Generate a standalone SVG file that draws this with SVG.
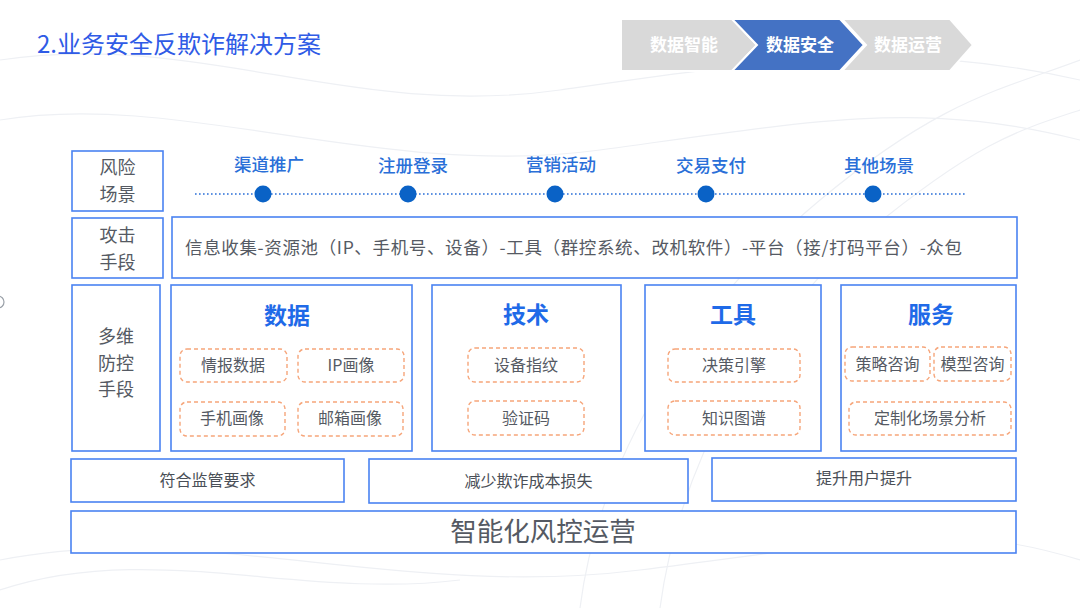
<svg xmlns="http://www.w3.org/2000/svg" width="1080" height="608" viewBox="0 0 1080 608">
<style>
text{font-family:"Noto Sans CJK SC","Noto Sans",sans-serif;}
.box{fill:#fff;stroke:#4a83f2;stroke-width:1.6;}
.lbl{fill:#555a63;font-size:18px;text-anchor:middle;}
.scn{fill:#2a6fd8;font-size:17.5px;text-anchor:middle;font-weight:500;}
.hd{fill:#1f6ae8;font-size:23px;font-weight:700;text-anchor:middle;}
.dash{fill:none;stroke:#f6a57a;stroke-width:1.4;stroke-dasharray:4 3;}
.it{fill:#555a63;font-size:16px;text-anchor:middle;}
.bt{fill:#4a4f57;font-size:16px;text-anchor:middle;}
.chv{font-size:17px;font-weight:700;fill:#fff;text-anchor:middle;}
.bg{fill:none;stroke:#eef0f4;stroke-width:1.2;}
</style>
<rect width="1080" height="608" fill="#fff"/>
<g id="background">
<path class="bg" d="M0,60 C200,30 350,120 560,90 S900,40 1080,80"/>
<path class="bg" d="M0,120 C180,90 380,180 600,150 S920,100 1080,140"/>
<path class="bg" d="M0,560 C200,520 400,600 640,570 S950,520 1080,560"/>
<path class="bg" d="M580,608 C600,450 700,300 820,200 S1000,90 1080,60"/>
<path class="bg" d="M660,608 C680,460 760,320 870,230 S1020,130 1080,110"/>
<path class="bg" d="M0,590 C150,540 300,600 460,580"/>
<circle cx="-2" cy="302" r="6" fill="none" stroke="#9aa0a8" stroke-width="1.2"/>
</g>
<g id="title">
<text x="37" y="53" font-size="24" fill="#2f5be6">2.业务安全反欺诈解决方案</text>
</g>
<g id="chevrons">
<polygon points="621,19 732,19 757,45 732,71 621,71" fill="#d9d9d9" stroke="#fff" stroke-width="2"/>
<polygon points="842,19 950,19 973,45 950,71 842,71 866,45" fill="#d9d9d9" stroke="#fff" stroke-width="2"/>
<polygon points="732,19 840,19 864,45 840,71 732,71 757,45" fill="#4472c4" stroke="#fff" stroke-width="2"/>
<text class="chv" x="684" y="51">数据智能</text>
<text class="chv" x="800" y="51">数据安全</text>
<text class="chv" x="908" y="51">数据运营</text>
</g>
<g id="row-risk">
<rect class="box" x="72" y="151" width="91" height="60"/>
<text class="lbl" x="117.5" y="174">风险</text>
<text class="lbl" x="117.5" y="200.5">场景</text>
</g>
<g id="connectors">
<line x1="195" y1="194" x2="967" y2="194" stroke="#2a6fd8" stroke-width="1.6" stroke-dasharray="1.6 2.4"/>
</g>
<g id="scenes">
<circle cx="263" cy="194" r="8.5" fill="#0a62c6"/>
<circle cx="408" cy="194" r="8.5" fill="#0a62c6"/>
<circle cx="555" cy="194" r="8.5" fill="#0a62c6"/>
<circle cx="706" cy="194" r="8.5" fill="#0a62c6"/>
<circle cx="873" cy="194" r="8.5" fill="#0a62c6"/>
<text class="scn" x="269" y="171">渠道推广</text>
<text class="scn" x="413" y="172">注册登录</text>
<text class="scn" x="561" y="171">营销活动</text>
<text class="scn" x="711" y="172">交易支付</text>
<text class="scn" x="879" y="172">其他场景</text>
</g>
<g id="row-attack">
<rect class="box" x="72" y="218" width="91" height="60"/>
<text class="lbl" x="117.5" y="242">攻击</text>
<text class="lbl" x="117.5" y="268.5">手段</text>
</g>
<g id="attack-chain">
<rect class="box" x="172" y="217" width="845" height="61"/>
<text x="185" y="254" font-size="17.5" fill="#555a63" textLength="777" lengthAdjust="spacing">信息收集-资源池（IP、手机号、设备）-工具（群控系统、改机软件）-平台（接/打码平台）-众包</text>
</g>
<g id="row-defense">
<rect class="box" x="72" y="285" width="88" height="166"/>
<text class="lbl" x="116" y="343">多维</text>
<text class="lbl" x="116" y="369.5">防控</text>
<text class="lbl" x="116" y="396">手段</text>
</g>
<g id="data">
<rect class="box" x="171" y="285" width="241" height="166"/>
<text class="hd" x="287" y="324">数据</text>
<rect class="dash" x="180" y="349" width="107" height="33" rx="7"/>
<text class="it" x="233" y="371">情报数据</text>
<rect class="dash" x="298" y="349" width="106" height="33" rx="7"/>
<text class="it" x="351" y="371">IP画像</text>
<rect class="dash" x="180" y="402" width="105" height="34" rx="7"/>
<text class="it" x="232" y="424">手机画像</text>
<rect class="dash" x="298" y="402" width="105" height="34" rx="7"/>
<text class="it" x="350" y="424">邮箱画像</text>
</g>
<g id="tech">
<rect class="box" x="432" y="285" width="189" height="166"/>
<text class="hd" x="526" y="323">技术</text>
<rect class="dash" x="468" y="348" width="116" height="34" rx="7"/>
<text class="it" x="526" y="371">设备指纹</text>
<rect class="dash" x="468" y="401" width="116" height="34" rx="7"/>
<text class="it" x="526" y="424">验证码</text>
</g>
<g id="tools">
<rect class="box" x="645" y="285" width="176" height="166"/>
<text class="hd" x="733" y="323">工具</text>
<rect class="dash" x="668" y="349" width="132" height="33" rx="7"/>
<text class="it" x="734" y="371">决策引擎</text>
<rect class="dash" x="668" y="401" width="132" height="34" rx="7"/>
<text class="it" x="734" y="424">知识图谱</text>
</g>
<g id="service">
<rect class="box" x="841" y="285" width="175" height="166"/>
<text class="hd" x="931" y="323">服务</text>
<rect class="dash" x="845" y="347" width="85" height="34" rx="7"/>
<text class="it" x="887.5" y="370">策略咨询</text>
<rect class="dash" x="934" y="347" width="77" height="34" rx="7"/>
<text class="it" x="972.5" y="370">模型咨询</text>
<rect class="dash" x="849" y="402" width="162" height="33" rx="7"/>
<text class="it" x="930" y="424">定制化场景分析</text>
</g>
<g id="goal-1">
<rect class="box" x="71" y="459" width="273" height="43"/>
<text class="bt" x="207.5" y="486">符合监管要求</text>
</g>
<g id="goal-2">
<rect class="box" x="369" y="459" width="319" height="44"/>
<text class="bt" x="528.5" y="487">减少欺诈成本损失</text>
</g>
<g id="goal-3">
<rect class="box" x="712" y="458" width="304" height="43"/>
<text class="bt" x="864" y="484">提升用户提升</text>
</g>
<g id="operation">
<rect class="box" x="71" y="511" width="945" height="42"/>
<text x="543" y="541" font-size="26.5" fill="#555a63" text-anchor="middle">智能化风控运营</text>
</g>
</svg>
